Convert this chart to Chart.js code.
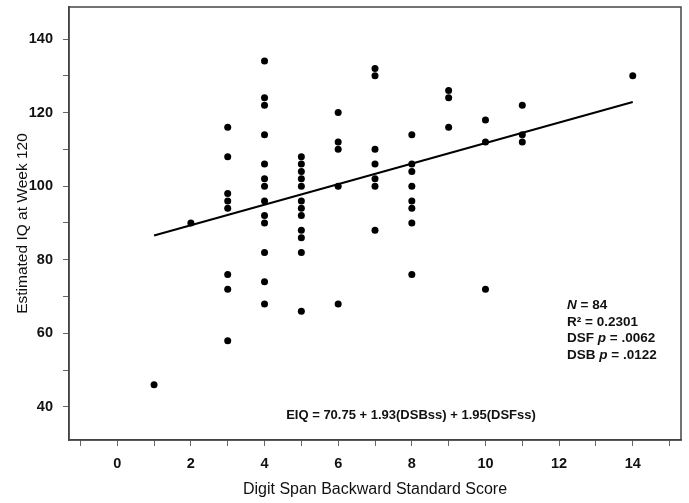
<!DOCTYPE html>
<html>
<head>
<meta charset="utf-8">
<script src="https://cdn.jsdelivr.net/npm/chart.js@4.4.1/dist/chart.umd.min.js"></script>
<style>
  html, body { margin: 0; padding: 0; background: #fff; }
  #wrap { width: 689px; height: 503px; }
</style>
</head>
<body>
<div id="wrap"><canvas id="myChart"></canvas></div>
<script>
// Puntajes DSB (eje x) y CI estimado (eje y)
const dsbScores = [
  1,
  2,
  3, 3, 3, 3, 3, 3, 3, 3,
  4, 4, 4, 4, 4, 4, 4, 4, 4, 4, 4, 4, 4,
  5, 5, 5, 5, 5, 5, 5, 5, 5, 5, 5, 5,
  6, 6, 6, 6, 6,
  7, 7, 7, 7, 7, 7, 7,
  8, 8, 8, 8, 8, 8, 8, 8,
  9, 9, 9,
  10, 10, 10,
  11, 11, 11,
  14
];
const iqScores = [
  46,
  90,
  116, 108, 98, 96, 94, 76, 72, 58,
  134, 124, 122, 114, 106, 102, 100, 96, 92, 90, 82, 74, 68,
  108, 106, 104, 102, 100, 96, 94, 92, 88, 86, 82, 66,
  120, 112, 110, 100, 68,
  132, 130, 110, 106, 102, 100, 88,
  114, 106, 104, 100, 96, 94, 90, 76,
  126, 124, 116,
  118, 112, 72,
  122, 114, 112,
  130
];

// Recta de regresion
const fitX = [1, 14];
const fitY = [86.6, 122.9];

// Marcas de los ejes
const xTickValues = [-1, 0, 1, 2, 3, 4, 5, 6, 7, 8, 9, 10, 11, 12, 13, 14, 15];
const xTickLabels = ['0', '2', '4', '6', '8', '10', '12', '14'];
const yTickValues = [40, 50, 60, 70, 80, 90, 100, 110, 120, 130, 140];
const yTickLabels = ['40', '60', '80', '100', '120', '140'];

const statLines = [
  [['N', true], [' = 84', false]],
  [['R\u00B2 = 0.2301', false]],
  [['DSF ', false], ['p', true], [' = .0062', false]],
  [['DSB ', false], ['p', true], [' = .0122', false]]
];
const equationText = 'EIQ = 70.75 + 1.93(DSBss) + 1.95(DSFss)';

const FONT = "'Liberation Sans', Arial, sans-serif";

const scatterPoints = dsbScores.map((x, i) => ({ x: x, y: iqScores[i] }));
const fitPoints = fitX.map((x, i) => ({ x: x, y: fitY[i] }));

// Marco completo y textos de anotacion
const framePlugin = {
  id: 'frame',
  afterDraw(chart) {
    const { ctx, chartArea: a } = chart;
    ctx.save();
    ctx.strokeStyle = '#444';
    ctx.lineWidth = 1.5;
    ctx.strokeRect(a.left, a.top, a.right - a.left, a.bottom - a.top);

    ctx.fillStyle = '#111';
    ctx.textBaseline = 'middle';
    ctx.textAlign = 'left';
    const lineY = [305, 322, 338, 355];
    statLines.forEach((parts, i) => {
      let x = 567;
      parts.forEach(([txt, italic]) => {
        ctx.font = (italic ? 'italic ' : '') + 'bold 13.5px ' + FONT;
        ctx.fillText(txt, x, lineY[i]);
        x += ctx.measureText(txt).width;
      });
    });

    ctx.font = 'bold 13px ' + FONT;
    ctx.textAlign = 'center';
    ctx.fillText(equationText, 411, 415);
    ctx.restore();
  }
};

const ctx = document.getElementById('myChart').getContext('2d');

new Chart(ctx, {
  type: 'scatter',
  data: {
    datasets: [
      {
        label: 'Participantes',
        data: scatterPoints,
        backgroundColor: '#000',
        borderWidth: 0,
        pointRadius: 3.5
      },
      {
        type: 'line',
        label: 'Ajuste',
        data: fitPoints,
        borderColor: '#000',
        borderWidth: 2,
        pointRadius: 0,
        fill: false
      }
    ]
  },
  options: {
    responsive: true,
    maintainAspectRatio: false,
    animation: false,
    plugins: {
      legend: { display: false },
      tooltip: { enabled: false }
    },
    layout: {
      padding: { top: 7, right: 8, left: 0, bottom: 0 }
    },
    scales: {
      x: {
        type: 'linear',
        min: -1.31,
        max: 15.31,
        afterBuildTicks: (scale) => {
          scale.ticks = xTickValues.map(v => ({ value: v }));
        },
        afterFit: (scale) => {
          scale.height = 63;
          scale.paddingLeft = 0;
          scale.paddingRight = 0;
        },
        ticks: {
          autoSkip: false,
          maxRotation: 0,
          padding: 9,
          color: '#111',
          font: { size: 14.5, weight: 'bold', family: FONT },
          callback: (v) => (xTickLabels.includes(String(v)) ? String(v) : '')
        },
        grid: {
          drawOnChartArea: false,
          drawTicks: true,
          tickLength: 6,
          color: '#666'
        },
        border: { display: true, color: '#444', width: 1.5 },
        title: {
          display: true,
          text: 'Digit Span Backward Standard Score',
          color: '#111',
          font: { size: 16, family: FONT },
          padding: { top: 0, bottom: 4 }
        }
      },
      y: {
        type: 'linear',
        min: 31,
        max: 148.7,
        afterBuildTicks: (scale) => {
          scale.ticks = yTickValues.map(v => ({ value: v }));
        },
        afterFit: (scale) => {
          scale.width = 69;
          scale.paddingTop = 0;
          scale.paddingBottom = 0;
        },
        ticks: {
          autoSkip: false,
          padding: 10,
          color: '#111',
          font: { size: 14.5, weight: 'bold', family: FONT },
          callback: (v) => (yTickLabels.includes(String(v)) ? String(v) : '')
        },
        grid: {
          drawOnChartArea: false,
          drawTicks: true,
          tickLength: 6,
          color: '#666'
        },
        border: { display: true, color: '#444', width: 1.5 },
        title: {
          display: true,
          text: 'Estimated IQ at Week 120',
          color: '#111',
          font: { size: 15.5, family: FONT },
          padding: { top: 13, bottom: 0 }
        }
      }
    }
  },
  plugins: [framePlugin]
});
</script>
</body>
</html>
